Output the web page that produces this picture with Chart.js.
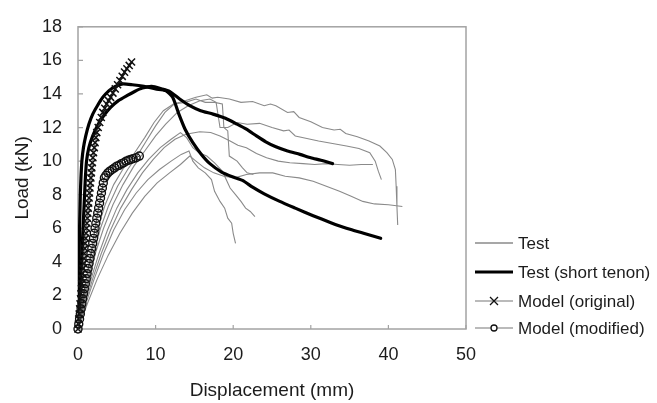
<!DOCTYPE html>
<html>
<head>
<meta charset="utf-8">
<script src="https://cdn.jsdelivr.net/npm/chart.js@4/dist/chart.umd.min.js"></script>
<style>
html,body{margin:0;padding:0;background:#fff;}
#wrap{width:657px;height:403px;}
</style>
</head>
<body>
<div id="wrap"><canvas id="c" width="657" height="403"></canvas></div>
<script>
// ---- Data (displacement mm, load kN) ----
const xTicks = [0, 10, 20, 30, 40, 50];
const yTicks = [0, 2, 4, 6, 8, 10, 12, 14, 16, 18];
const legendLabels = ["Test", "Test (short tenon)", "Model (original)", "Model (modified)"];

const test1 = [[0,0],[0.5,1.5],[1.1,3],[1.8,4.6],[2.6,6.1],[3.5,7.4],[4.6,8.6],[5.9,9.6],[7.3,10.5],[8.6,11.4],[9.8,12.3],[11,13.0],[12.3,13.4],[13.8,13.6],[15.2,13.8],[16.6,13.95],[17.3,13.75],[18,13.8],[19.5,13.7],[21,13.5],[22.5,13.55],[24,13.3],[24.8,13.4],[25.5,13.3],[27,12.9],[27.8,12.95],[28.5,12.6],[30,12.35],[31.5,12.0],[33,11.85],[33.8,11.9],[34.5,11.65],[36,11.45],[37.5,11.2],[38.9,10.9],[39.8,10.5],[40.5,10.1],[40.9,9.5],[41.0,8.5],[41.1,7.3],[41.2,6.2]];
const test2 = [[0,0],[0.7,1.5],[1.4,3],[2.3,4.6],[3.3,6],[4.5,7.4],[5.8,8.6],[7.2,9.7],[8.6,10.6],[10,11.5],[11.3,12.2],[12.8,12.9],[14.2,13.3],[15.7,13.6],[17,13.7],[17.8,13.5],[18.1,12.6],[18.3,12.0],[19.3,12.0],[20.5,12.3],[21.8,12.2],[23.4,12.25],[25,12.0],[26.5,11.8],[27.2,11.85],[28,11.5],[29.5,11.35],[31,11.2],[32.8,11.05],[34.6,10.9],[36.2,10.75],[37.6,10.5],[38.3,10.0],[38.7,9.4],[39.1,8.9]];
const test3 = [[0,0],[0.9,1.5],[1.9,3],[3,4.5],[4.2,5.9],[5.5,7.2],[6.9,8.3],[8.3,9.3],[9.7,10.1],[11.1,10.8],[12.5,11.3],[13.9,11.6],[15.7,11.75],[17.1,11.7],[18.3,11.5],[19.6,11.2],[20.6,10.95],[21.7,10.8],[23,10.45],[24.3,10.2],[25.8,10.0],[27.3,9.9],[29,9.85],[30.5,9.8],[32,9.85],[33.5,9.8],[35,9.75],[36.5,9.8],[38,9.8]];
const test4 = [[0,0],[1.2,1.5],[2.5,3],[3.9,4.4],[5.4,5.7],[7,6.9],[8.6,7.9],[10.2,8.7],[11.8,9.3],[13.2,9.8],[14.4,10.3],[15.2,10.0],[16.3,9.6],[17.5,9.3],[18.8,9.1],[20.2,9.0],[21.7,9.2],[23.4,9.3],[25.1,9.3],[26.7,9.1],[28.5,9.0],[30.3,8.8],[32,8.5],[33.7,8.2],[35.2,7.9],[36.7,7.6],[38.2,7.45],[40,7.4],[41.8,7.3]];
const test5 = [[0,0],[1,1.5],[2.1,3],[3.3,4.5],[4.6,5.9],[6,7.1],[7.5,8.1],[9,8.9],[10.5,9.5],[12,10.0],[13.3,10.4],[14.3,10.6],[14.8,10.0],[15.5,9.6],[16.4,9.3],[17.2,8.9],[17.6,8.2],[18.3,7.6],[18.9,7.2],[19.3,6.6],[19.8,6.3],[20.0,5.7],[20.3,5.1]];
const test6 = [[0,0],[0.8,1.5],[1.7,3],[2.7,4.5],[3.8,5.9],[5,7.2],[6.3,8.3],[7.7,9.3],[9.1,10.1],[10.6,10.8],[12,11.3],[13.2,11.7],[14,11.4],[14.8,10.8],[15.6,10.5],[16.6,10.3],[17.6,9.9],[18.6,9.4],[19.6,8.4],[20.3,8.0],[21.0,7.6],[21.6,7.2],[22.2,7.0],[22.8,6.7]];
const test7 = [[0,0],[0.6,1.5],[1.3,3],[2.0,4.5],[2.9,6],[3.9,7.3],[5.1,8.5],[6.4,9.5],[7.6,10.3],[8.8,11.2],[10,12.1],[11.2,12.9],[12.4,13.4],[13.8,13.5],[15.2,13.7],[16.4,13.5],[17.6,13.5],[18.6,13.4],[18.8,12.0],[19.3,11.8],[19.5,10.3],[20.5,10.0],[21.2,9.6],[21.8,9.3],[22.6,9.2]];

const shortA = [[0,0],[0.05,1],[0.08,2],[0.1,3],[0.13,4],[0.17,5],[0.2,6],[0.25,7],[0.3,8],[0.38,9],[0.5,10],[0.7,10.8],[1.0,11.5],[1.4,12.2],[1.9,12.8],[2.5,13.3],[3.2,13.8],[4.0,14.2],[4.8,14.45],[5.8,14.6],[7,14.55],[8.5,14.45],[10,14.3],[11.3,14.2],[12.2,13.8],[13,12.8],[13.8,11.9],[14.8,11.1],[15.9,10.4],[17,9.85],[18.5,9.35],[20,9.05],[21.2,8.85],[22.5,8.45],[24,8.05],[26,7.6],[28,7.2],[30.3,6.75],[32.5,6.35],[34.6,6.0],[36.8,5.7],[39,5.4]];
const shortB = [[0,0],[0.15,1],[0.25,2],[0.35,3],[0.45,4],[0.55,5],[0.65,6],[0.75,7],[0.85,8],[0.95,9],[1.1,10],[1.4,10.8],[1.9,11.5],[2.5,12.1],[3.3,12.7],[4.2,13.2],[5.2,13.6],[6.3,13.9],[7.3,14.15],[8.3,14.35],[9.5,14.45],[10.8,14.3],[11.8,14.15],[13.1,13.7],[14.4,13.3],[15.8,13.0],[17.4,12.8],[19,12.55],[20.5,12.2],[21.7,11.9],[23,11.5],[24.2,11.15],[25.5,10.85],[27,10.6],[28.6,10.4],[30,10.2],[31.3,10.05],[32.8,9.85]];

const modelOriginal = [[0,0],[0.05,0.3],[0.1,0.6],[0.16,0.9],[0.22,1.2],[0.27,1.5],[0.33,1.8],[0.38,2.1],[0.44,2.4],[0.49,2.7],[0.55,3.0],[0.6,3.3],[0.66,3.6],[0.71,3.9],[0.77,4.2],[0.82,4.5],[0.88,4.8],[0.93,5.1],[0.99,5.4],[1.04,5.7],[1.1,6.0],[1.15,6.3],[1.21,6.6],[1.26,6.9],[1.32,7.2],[1.37,7.5],[1.43,7.8],[1.48,8.1],[1.54,8.4],[1.6,8.7],[1.66,9.0],[1.72,9.3],[1.78,9.6],[1.85,9.9],[1.92,10.2],[2.0,10.5],[2.1,10.8],[2.2,11.1],[2.3,11.4],[2.42,11.7],[2.6,12.0],[2.8,12.3],[3.0,12.6],[3.2,12.9],[3.45,13.15],[3.7,13.4],[3.95,13.6],[4.2,13.8],[4.5,14.05],[4.8,14.3],[5.1,14.55],[5.4,14.8],[5.7,15.05],[6.0,15.3],[6.3,15.5],[6.6,15.7],[6.9,15.9]];
const modelModified = [[0,0],[0.1,0.3],[0.2,0.6],[0.3,0.9],[0.4,1.2],[0.5,1.5],[0.6,1.8],[0.7,2.1],[0.82,2.4],[0.94,2.7],[1.06,3.0],[1.18,3.3],[1.3,3.6],[1.42,3.9],[1.54,4.2],[1.66,4.5],[1.78,4.8],[1.9,5.1],[2.0,5.4],[2.1,5.7],[2.2,6.0],[2.3,6.3],[2.42,6.6],[2.54,6.9],[2.66,7.2],[2.78,7.5],[2.9,7.8],[3.02,8.1],[3.14,8.4],[3.26,8.7],[3.4,9.0],[3.6,9.15],[3.85,9.3],[4.1,9.4],[4.4,9.5],[4.7,9.6],[5.0,9.7],[5.3,9.75],[5.6,9.85],[5.9,9.9],[6.2,10.0],[6.5,10.05],[6.8,10.1],[7.1,10.15],[7.5,10.2],[7.9,10.3]];

// ---- Styling ----
const FONT = "'Liberation Sans', Arial, Helvetica, sans-serif";
const TEXT = '#1c1c1c';
const FRAME = '#a3a3a3';
const GRAY = '#8a8a8a';
const toXY = a => a.map(p => ({x: p[0], y: p[1]}));

function grayDs(arr) {
  return {data: toXY(arr), borderColor: GRAY, borderWidth: 1.1, pointRadius: 0, order: 3, tension: 0};
}
function blackDs(arr) {
  return {data: toXY(arr), borderColor: '#000', borderWidth: 3.2, pointRadius: 0, order: 2, tension: 0.2, borderCapStyle: 'round', borderJoinStyle: 'round'};
}

const datasets = [
  {data: toXY(modelOriginal), borderColor: '#555', borderWidth: 1, pointStyle: 'crossRot', pointRadius: 5, pointBorderColor: '#111', pointBorderWidth: 1.5, pointBackgroundColor: 'rgba(0,0,0,0)', order: 1, clip: 8},
  {data: toXY(modelModified), borderColor: '#555', borderWidth: 1, pointStyle: 'circle', pointRadius: 4, pointBorderColor: '#111', pointBorderWidth: 1.4, pointBackgroundColor: 'rgba(255,255,255,0)', order: 0, clip: 8},
  blackDs(shortA), blackDs(shortB),
  grayDs(test1), grayDs(test2), grayDs(test3), grayDs(test4), grayDs(test5), grayDs(test6), grayDs(test7)
];

const framePlugin = {
  id: 'frame',
  beforeDatasetsDraw(chart) {
    const {ctx, chartArea: a, scales} = chart;
    ctx.save();
    ctx.strokeStyle = FRAME;
    ctx.lineWidth = 1.5;
    ctx.strokeRect(a.left, a.top, a.right - a.left, a.bottom - a.top);
    ctx.lineWidth = 1.2;
    ctx.beginPath();
    yTicks.forEach(v => {
      const y = scales.y.getPixelForValue(v);
      ctx.moveTo(a.left, y); ctx.lineTo(a.left + 5, y);
    });
    xTicks.forEach(v => {
      const x = scales.x.getPixelForValue(v);
      ctx.moveTo(x, a.bottom); ctx.lineTo(x, a.bottom - 4);
    });
    ctx.stroke();
    ctx.restore();
  }
};

const legendPlugin = {
  id: 'customLegend',
  afterDraw(chart) {
    const {ctx, chartArea: a} = chart;
    const x0 = a.right + 9, x1 = a.right + 47, tx = a.right + 52;
    const ys = [243, 272, 301, 328];
    ctx.save();
    ctx.font = '17px ' + FONT;
    ctx.textBaseline = 'middle';
    ctx.fillStyle = TEXT;
    legendLabels.forEach((lab, i) => {
      const y = ys[i];
      ctx.beginPath();
      if (i === 0) { ctx.strokeStyle = GRAY; ctx.lineWidth = 1.3; }
      else if (i === 1) { ctx.strokeStyle = '#000'; ctx.lineWidth = 3; }
      else { ctx.strokeStyle = '#777'; ctx.lineWidth = 1.1; }
      ctx.moveTo(x0, y); ctx.lineTo(x1, y); ctx.stroke();
      const cx = (x0 + x1) / 2;
      if (i === 2) {
        ctx.beginPath(); ctx.strokeStyle = '#111'; ctx.lineWidth = 1.3;
        ctx.moveTo(cx - 4, y - 4); ctx.lineTo(cx + 4, y + 4);
        ctx.moveTo(cx - 4, y + 4); ctx.lineTo(cx + 4, y - 4); ctx.stroke();
      } else if (i === 3) {
        ctx.beginPath(); ctx.strokeStyle = '#111'; ctx.lineWidth = 1.3;
        ctx.fillStyle = '#fff';
        ctx.arc(cx, y, 3, 0, Math.PI * 2); ctx.fill(); ctx.stroke();
        ctx.fillStyle = TEXT;
      }
      ctx.fillText(lab, tx, y + 1);
    });
    ctx.restore();
  }
};

new Chart(document.getElementById('c'), {
  type: 'line',
  data: {datasets},
  plugins: [framePlugin, legendPlugin],
  options: {
    responsive: false,
    animation: false,
    devicePixelRatio: 1,
    events: [],
    layout: {padding: {left: 0, right: 191, top: 18, bottom: 0}},
    plugins: {legend: {display: false}, tooltip: {enabled: false}},
    elements: {line: {fill: false}},
    scales: {
      x: {
        type: 'linear', min: 0, max: 50,
        afterBuildTicks: s => { s.ticks = xTicks.map(v => ({value: v})); },
        afterFit: s => { s.height = 74; },
        ticks: {padding: 15, color: TEXT, font: {family: FONT, size: 18}, maxRotation: 0},
        grid: {display: false, drawTicks: false},
        border: {display: false},
        title: {display: true, text: 'Displacement (mm)', color: TEXT, font: {family: FONT, size: 19}, padding: {top: 0, bottom: 1}}
      },
      y: {
        type: 'linear', min: 0, max: 18,
        afterBuildTicks: s => { s.ticks = yTicks.map(v => ({value: v})); },
        afterFit: s => { s.width = 78; },
        ticks: {padding: 16, color: TEXT, font: {family: FONT, size: 18}},
        grid: {display: false, drawTicks: false},
        border: {display: false},
        title: {display: true, text: 'Load (kN)', color: TEXT, font: {family: FONT, size: 19}, padding: {top: 11, bottom: 0}}
      }
    }
  }
});
</script>
</body>
</html>
